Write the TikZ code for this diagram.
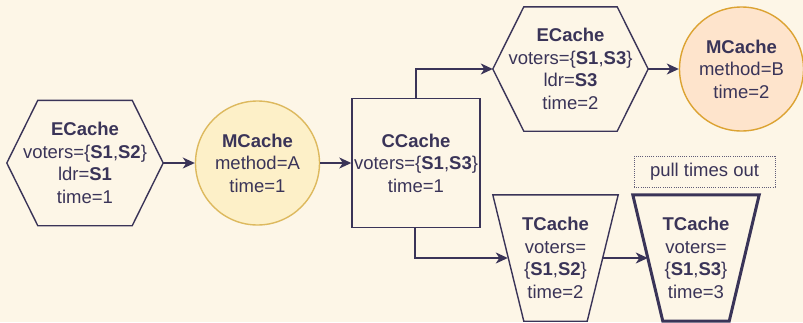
\documentclass[tikz,border=0pt]{standalone}
\usepackage{fontspec}
\setmainfont{Liberation Sans}
\usetikzlibrary{arrows.meta}
\definecolor{ink}{HTML}{3A3458}
\definecolor{paper}{HTML}{FDF6E7}
\definecolor{yelfill}{HTML}{FDF0C8}
\definecolor{yelline}{HTML}{DDB95E}
\definecolor{orafill}{HTML}{FEE4CC}
\definecolor{oraline}{HTML}{DCA332}
\begin{document}
\begin{tikzpicture}[x=1pt,y=-1pt,
  txt/.style={draw=none, inner sep=0pt, align=center, text=ink,
    font=\fontsize{18.5}{22.5}\selectfont},
  outline/.style={draw=ink, line width=1.4pt, line join=miter},
  heavy/.style={draw=ink, line width=3pt, line join=miter},
  link/.style={draw=ink, line width=1.4pt,
    -{Stealth[length=12pt, width=11pt, inset=3.5pt]}},
  mcache/.style={txt, circle, minimum size=124pt, line width=1.4pt}]
  % canvas
  \fill[paper] (0,0) rectangle (803,322);
  \useasboundingbox (0,0) rectangle (803,322);

  % ECache (left hexagon)
  \node[txt, minimum width=156pt, minimum height=125pt] (e1) at (85,163)
    {\textbf{ECache}\\voters=\{\textbf{S1},\textbf{S2}\}\\ldr=\textbf{S1}\\time=1};
  \draw[outline] (e1.west) -- ([xshift=31pt]e1.north west) -- ([xshift=-31pt]e1.north east)
    -- (e1.east) -- ([xshift=-31pt]e1.south east) -- ([xshift=31pt]e1.south west) -- cycle;

  % MCache, method A
  \node[mcache, fill=yelfill, draw=yelline] (m1) at (257.5,163)
    {\textbf{MCache}\\method=A\\time=1};

  % CCache
  \node[txt, outline, minimum width=128pt, minimum height=129pt] (cc) at (416,163)
    {\textbf{CCache}\\voters=\{\textbf{S1},\textbf{S3}\}\\time=1};

  % ECache (upper hexagon)
  \node[txt, minimum width=155pt, minimum height=124pt] (e2) at (570.5,69)
    {\textbf{ECache}\\voters=\{\textbf{S1},\textbf{S3}\}\\ldr=\textbf{S3}\\time=2};
  \draw[outline] (e2.west) -- ([xshift=31pt]e2.north west) -- ([xshift=-31pt]e2.north east)
    -- (e2.east) -- ([xshift=-31pt]e2.south east) -- ([xshift=31pt]e2.south west) -- cycle;

  % MCache, method B
  \node[mcache, fill=orafill, draw=oraline] (m2) at (741.5,69)
    {\textbf{MCache}\\method=B\\time=2};

  % TCache, time 2
  \node[txt, minimum width=125pt, minimum height=126pt] (t1) at (555.5,258)
    {\textbf{TCache}\\voters=\\\{\textbf{S1},\textbf{S2}\}\\time=2};
  \draw[outline] (t1.north west) -- (t1.north east) -- ([xshift=-31pt]t1.south east)
    -- ([xshift=31pt]t1.south west) -- cycle;

  % TCache, time 3
  \node[txt, minimum width=126pt, minimum height=126pt] (t2) at (696,258)
    {\textbf{TCache}\\voters=\\\{\textbf{S1},\textbf{S3}\}\\time=3};
  \draw[heavy] (t2.north west) -- (t2.north east) -- ([xshift=-30pt]t2.south east)
    -- ([xshift=30pt]t2.south west) -- cycle;

  % note above the last TCache
  \node[txt, draw=ink!80, line width=1pt, dash pattern=on 1pt off 1.2pt,
    minimum width=141pt, minimum height=31pt] (pull) at (704.5,171.5) {pull times out};

  % points on the slanted sides of the TCache outlines
  \coordinate (t1in) at ([xshift=15pt]t1.west);
  \coordinate (t1out) at ([xshift=-15pt]t1.east);
  \coordinate (t2in) at ([xshift=15pt]t2.west);

  % connectors
  \draw[link] (e1.east) -- (m1.west);
  \draw[link] (m1.east) -- (cc.west);
  \draw[link] (cc.north) |- (e2.west);
  \draw[link] ([xshift=-1pt]cc.south) |- (t1in);
  \draw[link] (e2.east) -- (m2.west);
  \draw[link] (t1out) -- (t2in);
\end{tikzpicture}
\end{document}
